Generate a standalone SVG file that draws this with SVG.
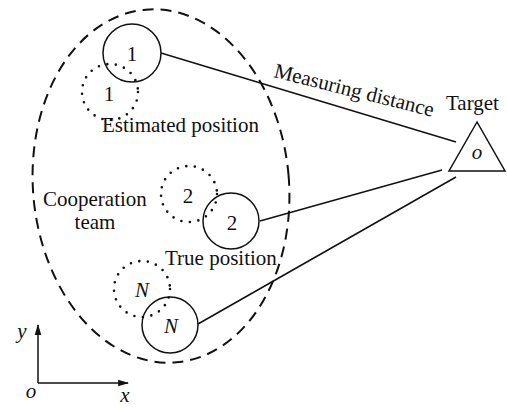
<svg xmlns="http://www.w3.org/2000/svg" width="507" height="409" viewBox="0 0 507 409">
<style>
.t{font-family:"Liberation Serif","Times New Roman",serif;font-size:21px;fill:#111}
.i{font-style:italic}
.solid{fill:none;stroke:#111;stroke-width:1.5}
.dot{fill:none;stroke:#111;stroke-width:2.6;stroke-linecap:round;stroke-dasharray:0 8.6}
.ln{stroke:#111;stroke-width:1.5;fill:none}
</style>
<defs>
<marker id="ar" viewBox="0 0 10 10" refX="9" refY="5" markerWidth="11" markerHeight="11" markerUnits="userSpaceOnUse" orient="auto">
<path d="M0,2 L10,5 L0,8 Z" fill="#111"/>
</marker>
</defs>
<g id="team">
<ellipse cx="161" cy="186" rx="128" ry="177" transform="rotate(-5 161 186)" fill="none" stroke="#111" stroke-width="2" stroke-dasharray="11 7"/>
<text class="t" x="43" y="206">Cooperation</text>
<text class="t" x="95" y="229" text-anchor="middle">team</text>
</g>
<g id="connectors">
<line class="ln" x1="161" y1="53" x2="456" y2="142"/>
<line class="ln" x1="260" y1="221" x2="442" y2="170"/>
<line class="ln" x1="198" y1="324" x2="456" y2="177"/>
<text class="t" x="273" y="77" transform="rotate(14 273 77)">Measuring distance</text>
</g>
<g id="est1">
<circle class="dot" cx="110" cy="92" r="28"/>
<text class="t" x="109" y="101" text-anchor="middle">1</text>
</g>
<g id="true1">
<circle class="solid" cx="132" cy="53" r="29"/>
<text class="t" x="132" y="61" text-anchor="middle">1</text>
</g>
<text class="t" x="102" y="132">Estimated  position</text>
<g id="est2">
<circle class="dot" cx="189" cy="194" r="28"/>
<text class="t" x="188" y="203" text-anchor="middle">2</text>
</g>
<g id="true2">
<circle class="solid" cx="231" cy="221" r="28"/>
<text class="t" x="232" y="230" text-anchor="middle">2</text>
</g>
<text class="t" x="165" y="265">True position</text>
<g id="estN">
<circle class="dot" cx="142" cy="289" r="28"/>
<text class="t i" x="142" y="297" text-anchor="middle">N</text>
</g>
<g id="trueN">
<circle class="solid" cx="170" cy="325" r="28"/>
<text class="t i" x="171" y="333" text-anchor="middle">N</text>
</g>
<g id="target">
<polygon class="solid" points="477,122 449,171 505,171"/>
<text class="t i" x="477" y="159" text-anchor="middle" font-size="16">o</text>
<text class="t" x="446" y="110" font-size="20">Target</text>
</g>
<g id="axes">
<line class="ln" x1="38" y1="383" x2="38" y2="325" marker-end="url(#ar)"/>
<line class="ln" x1="38" y1="383" x2="128" y2="383" marker-end="url(#ar)"/>
<text class="t i" x="22" y="338" text-anchor="middle">y</text>
<text class="t i" x="31" y="398" text-anchor="middle">o</text>
<text class="t i" x="125" y="402" text-anchor="middle">x</text>
</g>
</svg>
